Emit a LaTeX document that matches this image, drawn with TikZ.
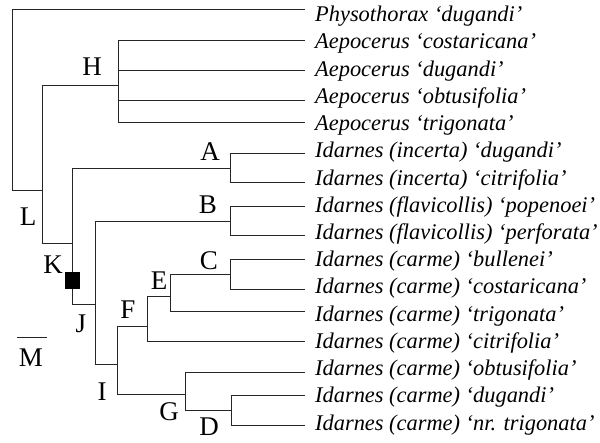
\documentclass[tikz,border=0pt]{standalone}
\usepackage{fontspec}
\setmainfont{Liberation Serif}
\begin{document}
\begin{tikzpicture}[x=1pt,y=-1pt,
  branch/.style={draw=black!85, line width=1pt},
  leaf/.style={anchor=base west, inner sep=0pt,
    font=\fontsize{22.4}{24}\selectfont\itshape},
  clade/.style={inner sep=0pt, font=\fontsize{27}{28}\selectfont},
  marker/.style={fill=black, draw=none, inner sep=0pt,
    minimum width=15.3pt, minimum height=17.7pt}]
\useasboundingbox (0,0) rectangle (600,442);

% terminal taxa, set on evenly spaced baselines
\foreach \n/\txt [count=\i from 0] in {
  t1/{Physothorax ‘dugandi’},
  t2/{Aepocerus ‘costaricana’},
  t3/{Aepocerus ‘dugandi’},
  t4/{Aepocerus ‘obtusifolia’},
  t5/{Aepocerus ‘trigonata’},
  t6/{Idarnes (incerta) ‘dugandi’},
  t7/{Idarnes (incerta) ‘citrifolia’},
  t8/{Idarnes (flavicollis) ‘popenoei’},
  t9/{Idarnes (flavicollis) ‘perforata’},
  t10/{Idarnes (carme) ‘bullenei’},
  t11/{Idarnes (carme) ‘costaricana’},
  t12/{Idarnes (carme) ‘trigonata’},
  t13/{Idarnes (carme) ‘citrifolia’},
  t14/{Idarnes (carme) ‘obtusifolia’},
  t15/{Idarnes (carme) ‘dugandi’},
  t16/{Idarnes (carme) ‘nr. trigonata’}}
  \node[leaf] (\n) at (315,21.7+27.22*\i) {\txt};

% branch tips
\foreach \n/\y in {e1/9.3, e2/40, e3/70, e4/100, e5/122.7, e6/153.3,
  e7/182.7, e8/206.3, e9/235.8, e10/259.5, e11/289, e12/311.7,
  e13/341.7, e14/372, e15/395, e16/425.3}
  \coordinate (\n) at (305,\y);

% internal nodes (x of the vertical bar, y of the stem)
\coordinate (root) at (12.3,9.3);
\coordinate (L) at (42.3,190.7);
\coordinate (H) at (118,85);
\coordinate (K) at (72.7,243.3);
\coordinate (A) at (230.7,168.3);
\coordinate (J) at (95.7,304.3);
\coordinate (B) at (230.7,221);
\coordinate (I) at (117.7,364.3);
\coordinate (F) at (147.7,326.7);
\coordinate (E) at (170.7,296.7);
\coordinate (C) at (230.7,274);
\coordinate (G) at (185.7,394.7);
\coordinate (D) at (231,410);

% branches
\draw[branch] (root) |- (e1);
\draw[branch] (root) |- (L);
\draw[branch] (L) |- (H);
\draw[branch] (L) |- (K);
\foreach \t in {e2,e3,e4,e5} \draw[branch] (H) |- (\t);
\draw[branch] (K) |- (A);
\draw[branch] (K) |- (J);
\draw[branch] (A) |- (e6);
\draw[branch] (A) |- (e7);
\draw[branch] (J) |- (B);
\draw[branch] (J) |- (I);
\draw[branch] (B) |- (e8);
\draw[branch] (B) |- (e9);
\draw[branch] (I) |- (F);
\draw[branch] (I) |- (G);
\draw[branch] (F) |- (E);
\draw[branch] (F) |- (e13);
\draw[branch] (E) |- (C);
\draw[branch] (E) |- (e12);
\draw[branch] (C) |- (e10);
\draw[branch] (C) |- (e11);
\draw[branch] (G) |- (e14);
\draw[branch] (G) |- (D);
\draw[branch] (D) |- (e15);
\draw[branch] (D) |- (e16);

% character change on branch K
\node[marker] (mk) at (72.7,280.5) {};

% clade labels
\node[clade] (lH) at (92,67)   {H};
\node[clade] (lA) at (210,152) {A};
\node[clade] (lB) at (208,205) {B};
\node[clade] (lC) at (209,261) {C};
\node[clade] (lE) at (159,281) {E};
\node[clade] (lF) at (128,310) {F};
\node[clade] (lG) at (169,412) {G};
\node[clade] (lD) at (209,427) {D};
\node[clade] (lI) at (102,392) {I};
\node[clade] (lJ) at (81,324)  {J};
\node[clade] (lK) at (53,265)  {K};
\node[clade] (lL) at (28,217)  {L};

% scale bar
\coordinate (m0) at (17,337);
\coordinate (m1) at (47,337);
\draw[branch] (m0) -- (m1);
\node[clade] (lM) at (31,358) {M};
\end{tikzpicture}
\end{document}
